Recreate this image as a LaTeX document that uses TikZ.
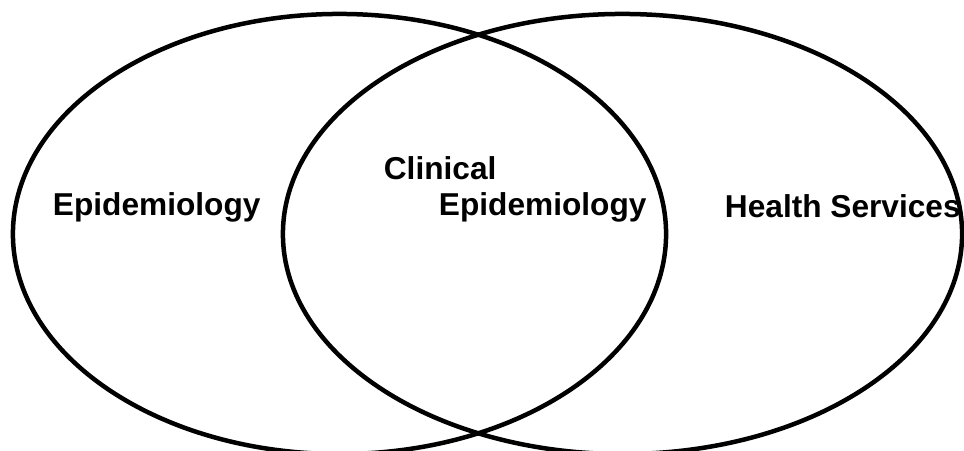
\documentclass[tikz,border=0pt]{standalone}
\usepackage{fontspec}
\setmainfont{Liberation Sans}
\usetikzlibrary{shapes.geometric}
\usetikzlibrary{positioning}

\begin{document}
\begin{tikzpicture} [
  x=0.025cm, y=0.025cm,
  set/.style={ellipse,draw,line width=3.2pt,inner sep=0,minimum height=11cm},
  label/.style={inner sep=0,anchor=base west,font=\fontsize{22.5}{27}\selectfont\bfseries}
  ]
  \useasboundingbox (0,0) rectangle (964,450);
  \clip (0,0) rectangle (964,450);
  \node (epi) [set,minimum width=16.325cm] at (339.5,216) {};
  \node (hs) [set,minimum width=16.975cm] at (622.5,216) {};
  \node (tepi) [label] at (52.7,235) {Epidemiology};
  \node (tclin) [label] at (383.6,271) {Clinical};
  \node (tcepi) [label] at (438.7,235) {Epidemiology};
  \node (ths) [label] at (724.7,233) {Health Services};
\end{tikzpicture}
\end{document}
